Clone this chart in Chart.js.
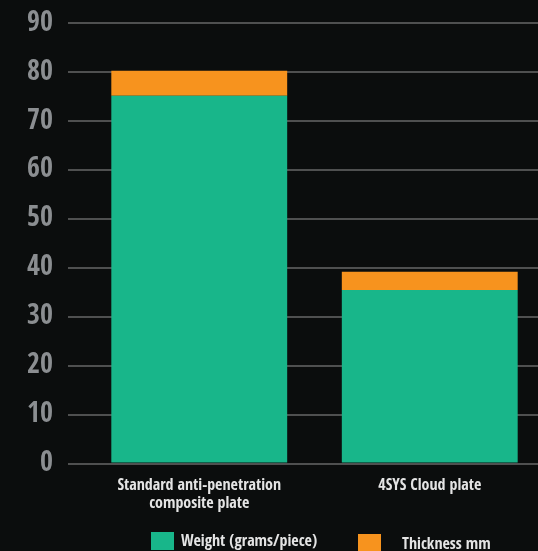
<!DOCTYPE html>
<html><head><meta charset="utf-8">
<script src="https://cdn.jsdelivr.net/npm/chart.js@4/dist/chart.umd.min.js"></script>
<style>
html,body{margin:0;padding:0;background:#0b0d0d;overflow:hidden;width:538px;height:551px}
#wrap{position:absolute;left:0;top:0;width:546px;height:551px}
</style></head>
<body>
<div id="wrap"><canvas id="c" width="546" height="551"></canvas></div>
<script>
const categories = [["Standard anti-penetration","composite plate"], "4SYS Cloud plate"];
const weightValues = [75.2, 35.5];
const thicknessValues = [5.1, 3.7];
const yTicks = [0,10,20,30,40,50,60,70,80,90];
const seriesNames = ["Weight (grams/piece)", "Thickness mm"];

const FONT = "'Open Sans Condensed','Roboto Condensed','DejaVu Sans Condensed',sans-serif";

const legendPlugin = {
  id: 'customLegend',
  afterDraw(chart) {
    const ctx = chart.ctx;
    const ds = chart.data.datasets;
    const items = [
      {box:[151,532,23,18], tx:181, ty:546},
      {box:[358,534,23,20], tx:402, ty:549}
    ];
    ctx.save();
    ctx.font = "bold 16px " + FONT;
    ctx.textBaseline = 'alphabetic';
    ctx.textAlign = 'left';
    ds.forEach((d,i)=>{
      const it = items[i];
      ctx.fillStyle = d.backgroundColor;
      ctx.fillRect(it.box[0], it.box[1], it.box[2], it.box[3]);
      ctx.fillStyle = '#e4e4e4';
      ctx.fillText(d.label, it.tx, it.ty);
    });
    ctx.restore();
  }
};

new Chart(document.getElementById('c'), {
  type: 'bar',
  data: {
    labels: categories,
    datasets: [
      {label: seriesNames[0], data: weightValues, backgroundColor: '#18b68a'},
      {label: seriesNames[1], data: thicknessValues, backgroundColor: '#f7931e'}
    ]
  },
  options: {
    responsive: false,
    animation: false,
    layout: {padding: {top: 23, right: 1, bottom: 0, left: 0}},
    datasets: {bar: {categoryPercentage: 1, barPercentage: 0.763}},
    plugins: {legend: {display: false}, tooltip: {enabled: false}},
    scales: {
      x: {
        stacked: true,
        grid: {display: false},
        border: {display: false},
        ticks: {color: '#e4e4e4', font: {family: FONT, size: 16, weight: 'bold', lineHeight: 1.1}, padding: 6, maxRotation: 0},
        afterFit(s) { s.height = 87.5; }
      },
      y: {
        stacked: true,
        min: 0, max: 90,
        afterBuildTicks(s) { s.ticks = yTicks.map(v => ({value: v})); },
        grid: {color: '#4f5050', lineWidth: 2, tickLength: 16, tickColor: '#4f5050', drawTicks: true},
        border: {display: false},
        ticks: {color: '#8b8e91', font: {family: FONT, size: 28, weight: 'bold', lineHeight: 0.6}, padding: 15},
        afterFit(s) { s.width = 84; }
      }
    }
  },
  plugins: [legendPlugin]
});
</script>
</body></html>
